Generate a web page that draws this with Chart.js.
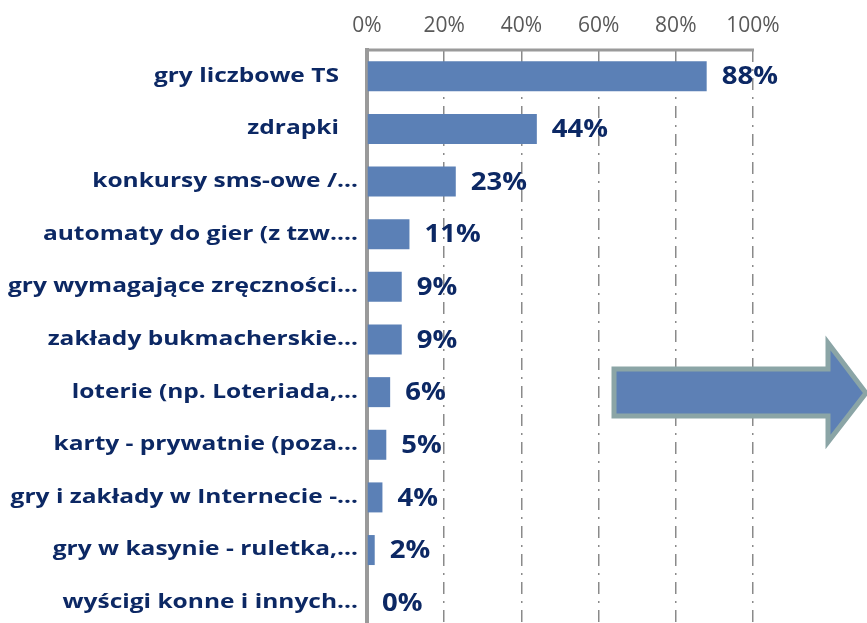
<!DOCTYPE html>
<html><head><meta charset="utf-8">
<script src="https://cdn.jsdelivr.net/npm/chart.js@4/dist/chart.umd.min.js"></script>
<style>html,body{margin:0;padding:0;background:#fff;overflow:hidden;width:867px;height:623px}canvas{display:block}</style>
</head><body>
<canvas id="c" width="867" height="640"></canvas>
<script>
const categories = [
  "gry liczbowe TS   ",
  "zdrapki   ",
  "konkursy sms-owe /…",
  "automaty do gier (z tzw.…",
  "gry wymagające zręczności…",
  "zakłady bukmacherskie…",
  "loterie (np. Loteriada,…",
  "karty - prywatnie (poza…",
  "gry i zakłady w Internecie -…",
  "gry w kasynie - ruletka,…",
  "wyścigi konne i innych…"
];
const values = [88, 44, 23, 11, 9, 9, 6, 5, 4, 2, 0];
const tickValues = [0, 20, 40, 60, 80, 100];

const NAVY = '#0c2864';
const FONT = '"Open Sans", "Noto Sans", sans-serif';
const AXIS_GRAY = '#9a9a9a';

const catLabels = {
  id: 'catLabels',
  afterDraw(chart) {
    const ctx = chart.ctx;
    const ys = chart.scales.y;
    const right = chart.chartArea.left - 9;
    ctx.save();
    ctx.font = 'bold 19px ' + FONT;
    ctx.fillStyle = NAVY;
    ctx.textAlign = 'right';
    ctx.textBaseline = 'middle';
    categories.forEach((lab, i) => {
      const y = ys.getPixelForTick(i);
      ctx.save();
      ctx.translate(right, y);
      ctx.scale(1.29, 1);
      ctx.fillText(lab, 0, 0);
      ctx.restore();
    });
    ctx.restore();
  }
};

const dataLabels = {
  id: 'dataLabels',
  afterDatasetsDraw(chart) {
    const ctx = chart.ctx;
    const meta = chart.getDatasetMeta(0);
    ctx.save();
    ctx.font = 'bold 25px ' + FONT;
    ctx.fillStyle = NAVY;
    ctx.textAlign = 'left';
    ctx.textBaseline = 'middle';
    meta.data.forEach((bar, i) => {
      ctx.save();
      ctx.translate(bar.x + 15, bar.y + 1);
      ctx.scale(1.1, 1);
      ctx.fillText(values[i] + '%', 0, 0);
      ctx.restore();
    });
    ctx.restore();
  }
};

const topBorder = {
  id: 'topBorder',
  afterDraw(chart) {
    const ctx = chart.ctx;
    const xs = chart.scales.x;
    const y = chart.chartArea.top;
    ctx.save();
    ctx.strokeStyle = AXIS_GRAY;
    ctx.lineWidth = 3;
    ctx.beginPath();
    ctx.moveTo(xs.getPixelForValue(0) - 2, y);
    ctx.lineTo(xs.getPixelForValue(100) + 1, y);
    ctx.stroke();
    ctx.restore();
  }
};

const arrow = {
  id: 'arrow',
  afterDraw(chart) {
    const ctx = chart.ctx;
    ctx.save();
    ctx.beginPath();
    ctx.moveTo(614, 369);
    ctx.lineTo(828, 369);
    ctx.lineTo(828, 343);
    ctx.lineTo(866, 393);
    ctx.lineTo(828, 442);
    ctx.lineTo(828, 416);
    ctx.lineTo(614, 416);
    ctx.closePath();
    ctx.fillStyle = '#5d80b5';
    ctx.fill();
    ctx.lineWidth = 5;
    ctx.lineJoin = 'miter';
    ctx.strokeStyle = '#8ba5a6';
    ctx.stroke();
    ctx.restore();
  }
};

new Chart(document.getElementById('c'), {
  type: 'bar',
  data: {
    labels: categories,
    datasets: [{
      data: values,
      backgroundColor: '#5b80b6',
      borderWidth: 0,
      categoryPercentage: 1,
      barPercentage: 0.57
    }]
  },
  options: {
    indexAxis: 'y',
    responsive: false,
    devicePixelRatio: 1,
    animation: false,
    layout: { padding: { left: 0, right: 114, top: 0, bottom: 11 } },
    plugins: { legend: { display: false }, tooltip: { enabled: false } },
    scales: {
      x: {
        position: 'top',
        min: 0, max: 100,
        afterBuildTicks(scale) { scale.ticks = tickValues.map(v => ({ value: v })); },
        afterFit(scale) { scale.height = 50; },
        ticks: {
          callback: v => v + '%',
          color: '#595959',
          font: { family: FONT, size: 21 },
          padding: 11,
          maxRotation: 0
        },
        grid: {
          drawTicks: false,
          color: ctx => (ctx.tick && ctx.tick.value === 0) ? 'rgba(0,0,0,0)' : '#8a8a8a',
          lineWidth: 1.5
        },
        border: { display: false, dash: [12, 7, 2, 7] }
      },
      y: {
        afterFit(scale) { scale.width = 367; },
        ticks: { display: false },
        grid: { display: false, drawTicks: false },
        border: { display: true, color: AXIS_GRAY, width: 4 }
      }
    }
  },
  plugins: [dataLabels, topBorder, catLabels, arrow]
});
</script>
</body></html>
